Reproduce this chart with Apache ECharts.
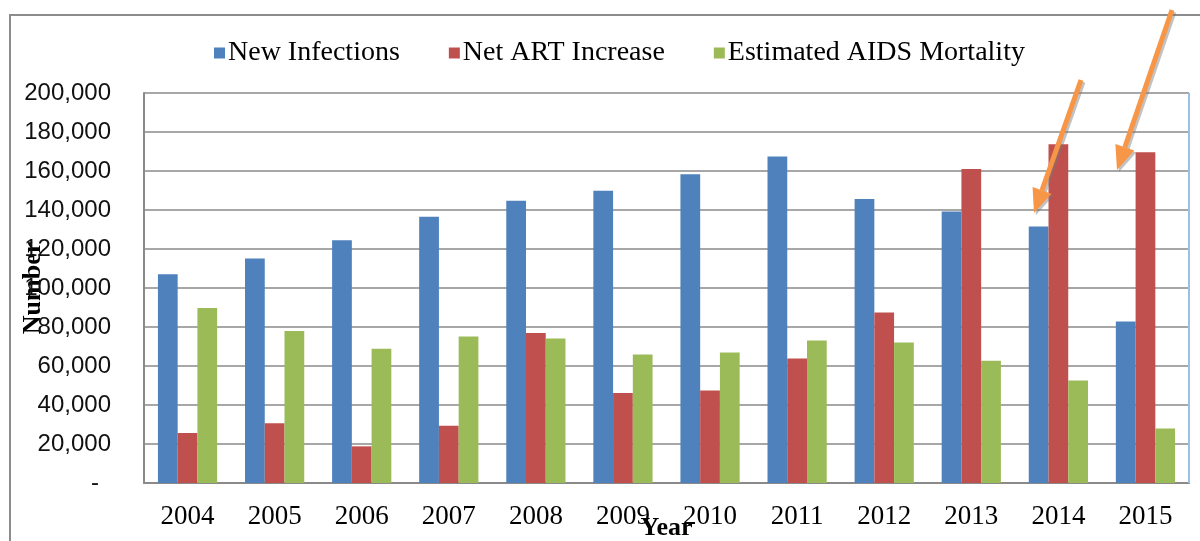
<!DOCTYPE html>
<html>
<head>
<meta charset="utf-8">
<script src="https://cdn.jsdelivr.net/npm/echarts@6/dist/echarts.min.js"></script>
<style>html,body{margin:0;padding:0;background:#fff;}#c{width:1200px;height:541px;}</style>
</head>
<body>
<div id="c"></div>
<script>
const years = ['2004','2005','2006','2007','2008','2009','2010','2011','2012','2013','2014','2015'];
const newInfections = [107100,115100,124500,136600,144800,149900,158300,167400,145700,139200,131500,82800];
const netArtIncrease = [25600,30700,18800,29400,76900,46100,47500,63800,87400,161000,173700,169600];
const aidsMortality = [89700,78000,68800,75100,74100,65900,66900,73100,72000,62700,52600,28000];
const seriesNames = ['New Infections','Net ART Increase','Estimated AIDS Mortality'];

const chart = echarts.init(document.getElementById('c'), null, {renderer:'canvas'});

function arrow(x1,y1,x2,y2){
  const dx=x2-x1, dy=y2-y1, L=Math.sqrt(dx*dx+dy*dy), ux=dx/L, uy=dy/L;
  const hl=24, hw=10;
  const bx=x2-ux*hl, by=y2-uy*hl;
  const px=-uy, py=ux;
  const color='#F79646';
  return [
    {type:'line', shape:{x1:x1+2,y1:y1+2,x2:bx+2,y2:by+2}, style:{stroke:'rgba(120,120,120,0.45)',lineWidth:5}, z:9},
    {type:'polygon', shape:{points:[[x2+2,y2+2],[bx+px*hw+2,by+py*hw+2],[bx-px*hw+2,by-py*hw+2]]}, style:{fill:'rgba(120,120,120,0.45)'}, z:9},
    {type:'line', shape:{x1:x1,y1:y1,x2:bx,y2:by}, style:{stroke:color,lineWidth:5}, z:10},
    {type:'polygon', shape:{points:[[x2,y2],[bx+px*hw,by+py*hw],[bx-px*hw,by-py*hw]]}, style:{fill:color}, z:10}
  ];
}

const option = {
  backgroundColor:'#ffffff',
  animation:false,
  color:['#4F81BD','#C0504D','#9BBB59'],
  legend:{
    data:seriesNames,
    left:209, top:34,
    itemWidth:11, itemHeight:11, itemGap:49,
    icon:'rect',
    textStyle:{fontFamily:'Liberation Serif', fontSize:28, color:'#000', padding:[0,0,0,-2]}
  },
  grid:{left:144, right:11, top:93, bottom:58, outerBoundsMode:'none', containLabel:false},
  xAxis:{
    type:'category', data:years,
    name:'Year', nameLocation:'middle', nameGap:32, nameMoveOverlap:false,
    nameTextStyle:{fontFamily:'Liberation Serif', fontSize:26, fontWeight:'bold', color:'#000'},
    axisTick:{show:false},
    axisLine:{lineStyle:{color:'#8a8a8a', width:2}},
    axisLabel:{fontFamily:'Liberation Serif', fontSize:27, color:'#000', margin:20}
  },
  yAxis:{
    type:'value', min:0, max:200000, interval:20000,
    name:'Number', nameLocation:'middle', nameGap:98, nameRotate:90, nameMoveOverlap:false,
    nameTextStyle:{fontFamily:'Liberation Serif', fontSize:26, fontWeight:'bold', color:'#000'},
    axisLine:{show:true, lineStyle:{color:'#8a8a8a', width:2}},
    axisTick:{show:false},
    splitLine:{lineStyle:{color:'#8a8a8a', width:1.5}},
    axisLabel:{
      fontFamily:'Liberation Sans', fontSize:24, color:'#111', margin:33,
      formatter:function(v){ return v===0 ? '{d|-}' : v.toLocaleString('en-US'); },
      rich:{d:{fontFamily:'Liberation Sans', fontSize:24, color:'#111', padding:[0,12,0,0]}}
    }
  },
  series:[
    {name:seriesNames[0], type:'bar', data:newInfections, barGap:'0%', barCategoryGap:'32%'},
    {name:seriesNames[1], type:'bar', data:netArtIncrease, barGap:'0%', barCategoryGap:'32%'},
    {name:seriesNames[2], type:'bar', data:aidsMortality, barGap:'0%', barCategoryGap:'32%'}
  ],
  graphic:[
    {type:'rect', shape:{x:10,y:15,width:1300,height:700}, style:{fill:'none', stroke:'#8c8c8c', lineWidth:2}, z:-1, silent:true},
    {type:'line', shape:{x1:1189,y1:93,x2:1189,y2:483}, style:{stroke:'#9dbfe6', lineWidth:2}, z:5}
  ].concat(arrow(1081,80,1034,213)).concat(arrow(1172,10,1117,170))
};
chart.setOption(option);
</script>
</body>
</html>
